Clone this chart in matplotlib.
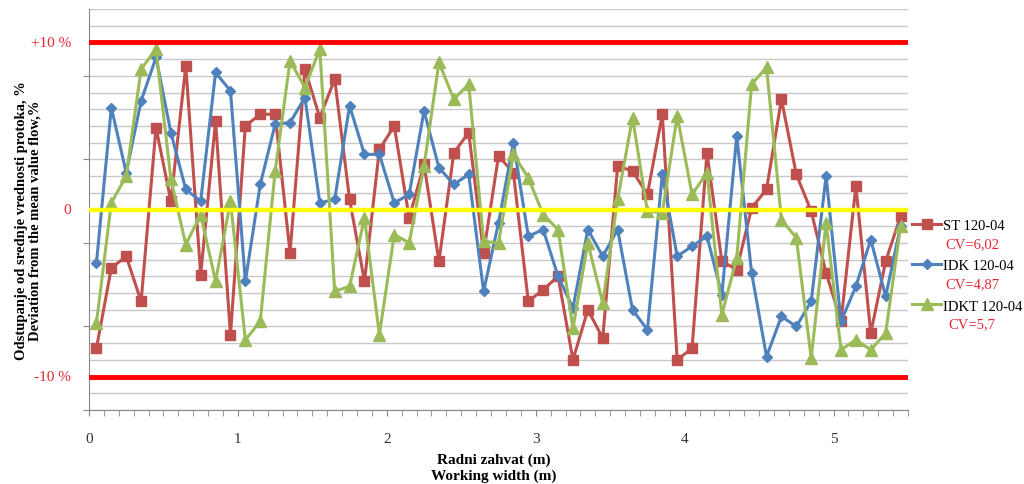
import numpy as np
import matplotlib
matplotlib.use("Agg")
import matplotlib.pyplot as plt
from matplotlib.ticker import MultipleLocator, FixedLocator

# radni zahvat (m) - sredine sekcija po 0,1 m
width = np.round(np.arange(0.05, 5.5, 0.1), 2)

# odstupanje od srednje vrednosti protoka, %
st_120 = [-8.3, -3.5, -2.8, -5.5, 4.9, 0.5, 8.6, -3.9, 5.3, -7.5,
          5.0, 5.7, 5.7, -2.6, 8.4, 5.5, 7.8, 0.6, -4.3, 3.6,
          5.0, -0.5, 2.7, -3.1, 3.4, 4.6, -2.6, 3.2, 2.2, -5.5,
          -4.8, -4.0, -9.0, -6.0, -7.7, 2.6, 2.3, 0.9, 5.7, -9.0,
          -8.3, 3.4, -3.1, -3.6, 0.1, 1.2, 6.6, 2.1, -0.1, -3.8,
          -6.7, 1.4, -7.4, -3.1, -0.4]
idk_120 = [-3.2, 6.1, 2.2, 6.5, 9.1, 4.6, 1.2, 0.5, 8.2, 7.1,
           -4.3, 1.5, 5.1, 5.2, 6.7, 0.4, 0.6, 6.2, 3.3, 3.3,
           0.4, 0.9, 5.9, 2.5, 1.5, 2.1, -4.9, -0.8, 4.0, -1.6,
           -1.2, -4.0, -5.9, -1.2, -2.8, -1.2, -6.0, -7.2, 2.1, -2.8,
           -2.2, -1.6, -5.1, 4.4, -3.8, -8.8, -6.4, -7.0, -5.5, 2.0,
           -6.7, -4.6, -1.8, -5.2, -1.0]
idkt_120 = [-6.8, 0.4, 2.0, 8.4, 9.6, 1.8, -2.1, -0.3, -4.3, 0.5,
            -7.8, -6.7, 2.3, 8.9, 7.3, 9.6, -4.9, -4.6, -0.5, -7.5,
            -1.5, -2.0, 2.6, 8.8, 6.6, 7.5, -1.9, -2.0, 3.3, 1.9,
            -0.3, -1.2, -7.1, -2.0, -5.6, 0.6, 5.5, -0.1, -0.2, 5.6,
            0.9, 2.2, -6.3, -2.9, 7.5, 8.5, -0.6, -1.7, -8.9, -0.8,
            -8.4, -7.8, -8.4, -7.4, -1.0]

labels = ["ST 120-04", "IDK 120-04", "IDKT 120-04"]
cv_text = ["CV=6,02", "CV=4,87", "CV=5,7"]
limits = [10, -10]
limit_text = ["+10 %", "-10 %"]

plt.rcParams['font.family'] = ['Liberation Serif', 'DejaVu Serif']

fig = plt.figure(figsize=(10.24, 4.85), dpi=100)
ax = fig.add_axes([89 / 1024, 1 - 411 / 485, (908 - 89) / 1024, 401 / 485])

ax.plot(width, st_120, color='#C0504D', lw=2.2, marker='s', ms=7, label=labels[0], zorder=3)
ax.plot(width, idk_120, color='#4F81BD', lw=2.2, marker='D', ms=5.5, label=labels[1], zorder=3)
ax.plot(width, idkt_120, color='#9BBB59', lw=2.2, marker='^', ms=8, label=labels[2], zorder=3)

# granice +-10 % i srednja vrednost
for lim in limits:
    ax.axhline(lim, color='#FF0000', lw=3.5, zorder=4)
ax.axhline(0, color='#FFFF00', lw=3.2, zorder=4)

ax.set_xlim(0, 5.5)
ax.set_ylim(-12, 12)
ax.xaxis.set_major_locator(MultipleLocator(1))
ax.xaxis.set_minor_locator(MultipleLocator(0.1))
ax.yaxis.set_major_locator(FixedLocator([-12, -7, -2, 3, 8]))
ax.yaxis.set_minor_locator(MultipleLocator(1))
ax.set_yticklabels([])
ax.tick_params(axis='x', which='both', length=4, color='#888888', labelsize=11,
               labelcolor='#333333', pad=12)
ax.tick_params(axis='y', which='major', length=4, color='#888888')
ax.tick_params(axis='y', which='minor', length=0)
ax.grid(axis='y', which='both', color='#C8C8C8', lw=1, zorder=0)
for s in ['top', 'right']:
    ax.spines[s].set_visible(False)
for s in ['left', 'bottom']:
    ax.spines[s].set_color('#888888')

# oznake na y osi
for lim, txt in zip(limits, limit_text):
    ax.text(-0.022, lim, txt, transform=ax.get_yaxis_transform(), ha='right',
            va='center', color='#E3262F', fontsize=11)
ax.text(-0.022, 0, "0", transform=ax.get_yaxis_transform(), ha='right',
        va='center', color='#E3262F', fontsize=11)

fig.text(28 / 1024, 1 - 221 / 485,
         "Odstupanje od srednje vrednosti protoka, %\nDeviation from the mean value flow,%",
         rotation=90, ha='center', va='center', ma='center', fontsize=10.5,
         fontweight='bold', linespacing=1.05)
fig.text(494 / 1024, 1 - 468 / 485, "Radni zahvat (m)\nWorking width (m)",
         ha='center', va='center', ma='center', fontsize=11, fontweight='bold',
         linespacing=1.2)

leg = fig.legend(loc='upper left', bbox_to_anchor=(912 / 1024, 1 - 220 / 485),
                 frameon=False, fontsize=10.5, handlelength=2.0, handletextpad=0.1,
                 labelspacing=1.85, borderpad=0, borderaxespad=0)
for k, txt in enumerate(cv_text):
    fig.text(972 / 1024, 1 - (245 + 40 * k) / 485, txt, ha='center', va='center',
             color='#E3262F', fontsize=10.5)

fig.savefig("out.png", dpi=100)
